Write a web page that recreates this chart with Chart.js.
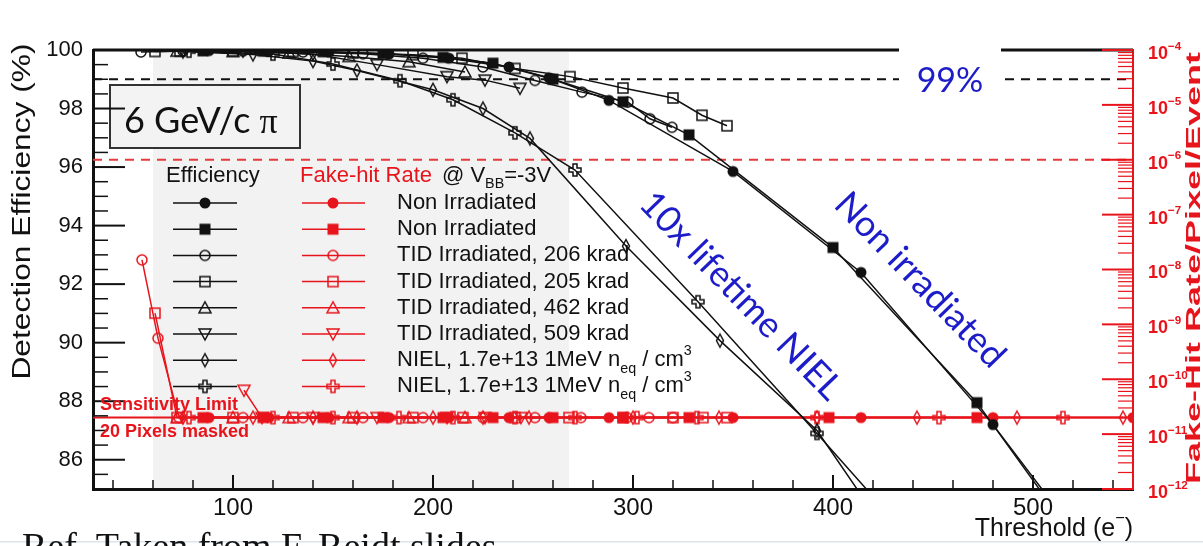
<!DOCTYPE html>
<html>
<head>
<meta charset="utf-8">
<title>Detection efficiency vs threshold</title>
<script src="https://cdn.jsdelivr.net/npm/chart.js@4.4.1/dist/chart.umd.min.js"></script>
<style>
  html, body { margin: 0; padding: 0; background: #fff; overflow: hidden; }
  canvas { display: block; }
</style>
</head>
<body>
<canvas id="effChart" width="1203" height="546"></canvas>
<script>
// ===============================
// DATA
// threshold [e-] vs detection efficiency [%] and fake-hit rate [/pixel/event]
// ===============================
const xLabels = [100, 200, 300, 400, 500];
const yLabels = [86, 88, 90, 92, 94, 96, 98, 100];
const rateExponents = [-12, -11, -10, -9, -8, -7, -6, -5, -4];

const seriesNames = [
  'Non Irradiated',
  'Non Irradiated',
  'TID Irradiated, 206 krad',
  'TID Irradiated, 205 krad',
  'TID Irradiated, 462 krad',
  'TID Irradiated, 509 krad',
  'NIEL, 1.7e+13 1MeV n_eq / cm^3',
  'NIEL, 1.7e+13 1MeV n_eq / cm^3'
];

// efficiency [threshold, %]
const effNonIrrA = [[88, 99.98], [118, 99.96], [148, 99.93], [178, 99.86], [208, 99.72], [238, 99.42], [258, 99.05], [288, 98.28], [350, 95.85], [414, 92.4], [480, 87.2], [530, 82.7]];
const effNonIrrB = [[85, 99.97], [115, 99.96], [145, 99.94], [175, 99.88], [205, 99.75], [230, 99.55], [260, 99.0], [295, 98.23], [328, 97.1], [400, 93.25], [472, 87.95], [520, 83.4]];
const effTid206 = [[54, 99.93], [75, 99.97], [105, 99.96], [135, 99.93], [165, 99.87], [195, 99.72], [225, 99.42], [251, 98.96], [274.5, 98.56], [297.5, 98.22], [308.5, 97.65], [319.5, 97.36]];
const effTid205 = [[61, 99.95], [73.5, 99.96], [100, 99.96], [130, 99.95], [160, 99.9], [190, 99.84], [214.5, 99.72], [241, 99.37], [268.5, 99.09], [295, 98.7], [320, 98.36], [334.5, 97.77], [347, 97.41]];
const effTid462 = [[72, 99.96], [100, 99.95], [128, 99.9], [158, 99.78], [188, 99.6], [216, 99.25]];
const effTid509 = [[105, 99.96], [140, 99.86], [172, 99.5], [207, 99.09], [226, 98.97], [243.5, 98.69]];
const effNielA = [[75, 99.95], [110, 99.85], [140, 99.62], [162, 99.3], [200, 98.64], [225, 98.0], [248.5, 96.98], [296.5, 93.3], [343.5, 90.07], [392, 87.0], [440, 82.2]];
const effNielB = [[78, 99.96], [120, 99.86], [150, 99.52], [183.5, 98.95], [210, 98.3], [241, 97.17], [271, 95.9], [332.5, 91.4], [392, 86.9], [440, 83.2]];

// fake-hit rate [threshold, rate]; most points sit on the sensitivity limit
const LIMIT = 2e-11;
const fhrNonIrrA = [[88, LIMIT], [118, LIMIT], [148, LIMIT], [178, LIMIT], [208, LIMIT], [238, LIMIT], [258, LIMIT], [288, LIMIT], [350, LIMIT], [414, LIMIT], [480, LIMIT], [550, LIMIT]];
const fhrNonIrrB = [[85, LIMIT], [115, LIMIT], [145, LIMIT], [175, LIMIT], [205, LIMIT], [230, LIMIT], [260, LIMIT], [295, LIMIT], [328, LIMIT], [398, LIMIT], [472, LIMIT]];
const fhrTid206 = [[54.5, 1.5e-8], [62.5, 5.6e-10], [73, LIMIT], [105, LIMIT], [135, LIMIT], [165, LIMIT], [195, LIMIT], [225, LIMIT], [251, LIMIT], [274, LIMIT], [297, LIMIT], [308, LIMIT], [320, LIMIT]];
const fhrTid205 = [[61, 1.6e-9], [72, LIMIT], [100, LIMIT], [130, LIMIT], [160, LIMIT], [190, LIMIT], [215, LIMIT], [241, LIMIT], [268, LIMIT], [295, LIMIT], [320, LIMIT], [335, LIMIT], [347, LIMIT]];
const fhrTid462 = [[72, LIMIT], [100, LIMIT], [128, LIMIT], [158, LIMIT], [188, LIMIT], [216, LIMIT]];
const fhrTid509 = [[105.5, 6.3e-11], [114.5, LIMIT], [140, LIMIT], [172, LIMIT], [207, LIMIT], [226, LIMIT], [244, LIMIT]];
const fhrNielA = [[75, LIMIT], [110, LIMIT], [140, LIMIT], [162, LIMIT], [200, LIMIT], [225, LIMIT], [248, LIMIT], [300, LIMIT], [343, LIMIT], [392, LIMIT], [442, LIMIT], [492, LIMIT], [545, LIMIT]];
const fhrNielB = [[78, LIMIT], [120, LIMIT], [150, LIMIT], [183, LIMIT], [210, LIMIT], [241, LIMIT], [271, LIMIT], [302, LIMIT], [332, LIMIT], [392, LIMIT], [453, LIMIT], [515, LIMIT]];

const EFF_REF = 99;        // 99 % line
const RATE_REF = 1e-6;     // fake-hit rate requirement
const shadedRange = [60, 268];

// ===============================
// STYLE
// ===============================
const INK = '#111111';
const RED = '#e8141c';
const BLUE = '#1c1cc8';
const SANS = '"Liberation Sans", Arial, sans-serif';
const CAL = 'Lato, "Open Sans", sans-serif';
const SERIF = '"Liberation Serif", "Times New Roman", serif';

Chart.defaults.font.family = SANS;

const shapes = ['circle', 'square', 'circle', 'square', 'triangle', 'triangleDown', 'diamond', 'cross'];
const filled = [true, true, false, false, false, false, false, false];

function makeMarker(shape, color, solid) {
  const c = document.createElement('canvas');
  c.width = c.height = 18;
  const g = c.getContext('2d');
  g.translate(9, 9);
  g.lineWidth = 1.5;
  g.strokeStyle = color;
  g.fillStyle = color;
  g.beginPath();
  if (shape === 'circle') {
    g.arc(0, 0, solid ? 5.5 : 5, 0, Math.PI * 2);
  } else if (shape === 'square') {
    solid ? g.rect(-5.5, -5.5, 11, 11) : g.rect(-5, -5, 10, 10);
  } else if (shape === 'triangle') {
    g.moveTo(0, -6); g.lineTo(6, 5); g.lineTo(-6, 5); g.closePath();
  } else if (shape === 'triangleDown') {
    g.moveTo(0, 6); g.lineTo(6, -5); g.lineTo(-6, -5); g.closePath();
  } else if (shape === 'diamond') {
    g.moveTo(0, -6.5); g.lineTo(3.5, 0); g.lineTo(0, 6.5); g.lineTo(-3.5, 0); g.closePath();
  } else if (shape === 'cross') {
    const a = 2, b = 6;
    const pts = [[-a, -b], [a, -b], [a, -a], [b, -a], [b, a], [a, a], [a, b], [-a, b], [-a, a], [-b, a], [-b, -a], [-a, -a]];
    pts.forEach(([px, py], i) => (i ? g.lineTo(px, py) : g.moveTo(px, py)));
    g.closePath();
  }
  solid ? g.fill() : g.stroke();
  return c;
}

const blackMarks = shapes.map((s, i) => makeMarker(s, INK, filled[i]));
const redMarks = shapes.map((s, i) => makeMarker(s, RED, filled[i]));

// ===============================
// DATASETS
// ===============================
const toXY = pts => pts.map(([x, y]) => ({ x, y }));

function curve(label, pts, axis, color, mark) {
  return {
    label,
    data: toXY(pts),
    yAxisID: axis,
    borderColor: color,
    borderWidth: 1.5,
    pointStyle: mark,
    pointRadius: 5,
    tension: 0,
    fill: false
  };
}

function refLine(pts, axis, color, width, dash, clip) {
  return {
    data: toXY(pts),
    yAxisID: axis,
    borderColor: color,
    borderWidth: width,
    borderDash: dash,
    pointRadius: 0,
    tension: 0,
    fill: false,
    clip
  };
}

const effSeries = [effNonIrrA, effNonIrrB, effTid206, effTid205, effTid462, effTid509, effNielA, effNielB];
const fhrSeries = [fhrNonIrrA, fhrNonIrrB, fhrTid206, fhrTid205, fhrTid462, fhrTid509, fhrNielA, fhrNielB];

const datasets = [
  ...effSeries.map((s, i) => curve(seriesNames[i], s, 'y', INK, blackMarks[i])),
  ...fhrSeries.map((s, i) => curve(seriesNames[i], s, 'y2', RED, redMarks[i])),
  refLine([[30, LIMIT], [550, LIMIT]], 'y2', RED, 2, [], undefined),
  refLine([[30, 100], [550, 100]], 'y', INK, 3, [], false),
  refLine([[30, EFF_REF], [550, EFF_REF]], 'y', INK, 2, [9, 7], undefined),
  refLine([[30, RATE_REF], [550, RATE_REF]], 'y2', '#e83a3a', 2, [9, 7], undefined)
];

// ===============================
// TEXT HELPERS
// ===============================
// "_xx" is drawn as subscript, "^xx" as superscript
function splitRich(str) {
  return str.split(/([_^][A-Za-z0-9\-]+)/).filter(Boolean).map(t => {
    if (t[0] === '_') return { t: t.slice(1), sub: true };
    if (t[0] === '^') return { t: t.slice(1).replace('-', '\u2212'), sup: true };
    return { t };
  });
}

function richWidth(ctx, parts, size, weight, family) {
  let w = 0;
  parts.forEach(p => {
    ctx.font = `${weight} ${p.sub || p.sup ? size * 0.65 : size}px ${family}`;
    w += ctx.measureText(p.t).width;
  });
  return w;
}

function richText(ctx, str, x, y, o) {
  const { size, color = INK, weight = '', family = SANS, align = 'left' } = o;
  const parts = splitRich(str);
  let cx = align === 'right' ? x - richWidth(ctx, parts, size, weight, family) : x;
  ctx.fillStyle = color;
  ctx.textAlign = 'left';
  ctx.textBaseline = 'middle';
  parts.forEach(p => {
    const small = p.sub || p.sup;
    ctx.font = `${weight} ${small ? size * 0.65 : size}px ${family}`;
    const dy = p.sub ? size * 0.38 : p.sup ? -size * 0.42 : 0;
    ctx.fillText(p.t, cx, y + dy);
    cx += ctx.measureText(p.t).width;
  });
}

function line(ctx, x1, y1, x2, y2) {
  ctx.beginPath();
  ctx.moveTo(x1, y1);
  ctx.lineTo(x2, y2);
  ctx.stroke();
}

// ===============================
// DECORATION PLUGIN
// ===============================
function drawTicks(chart) {
  const { ctx, chartArea: a, scales: { x, y, y2 } } = chart;
  ctx.save();
  ctx.strokeStyle = INK;
  for (let v = 40; v <= 540; v += 20) {
    const px = x.getPixelForValue(v);
    ctx.lineWidth = v % 100 === 0 ? 2 : 1.5;
    line(ctx, px, a.bottom, px, a.bottom - (v % 100 === 0 ? 14 : 9));
  }
  for (let v = 85.5; v < 100; v += 0.5) {
    const py = y.getPixelForValue(v);
    ctx.lineWidth = v % 2 === 0 ? 2 : 1.5;
    line(ctx, a.left, py, a.left + (v % 2 === 0 ? 32 : 15), py);
  }
  ctx.strokeStyle = RED;
  rateExponents.forEach(e => {
    for (let m = 1; m < 10; m++) {
      if (e === -4 && m > 1) break;
      const py = y2.getPixelForValue(m * Math.pow(10, e));
      ctx.lineWidth = m === 1 ? 2 : 1.2;
      line(ctx, a.right - (m === 1 ? 31 : 15), py, a.right, py);
    }
  });
  ctx.restore();
}

function drawLegend(ctx) {
  const rowY = 203, step = 26.2;
  richText(ctx, 'Efficiency', 166, 176, { size: 22 });
  richText(ctx, 'Fake-hit Rate', 300, 176, { size: 22, color: RED });
  richText(ctx, '@ V_BB=-3V', 442, 176, { size: 22 });
  seriesNames.forEach((name, i) => {
    const yy = rowY + i * step;
    ctx.lineWidth = 1.5;
    ctx.strokeStyle = INK;
    line(ctx, 173, yy, 237, yy);
    ctx.drawImage(blackMarks[i], 205 - 9, yy - 9);
    ctx.strokeStyle = RED;
    line(ctx, 302, yy, 365, yy);
    ctx.drawImage(redMarks[i], 333 - 9, yy - 9);
    richText(ctx, name, 397, yy, { size: 22 });
  });
}

const decor = {
  id: 'decor',
  beforeDraw(chart) {
    const { ctx, chartArea: a, scales: { x } } = chart;
    const x0 = x.getPixelForValue(shadedRange[0]);
    const x1 = x.getPixelForValue(shadedRange[1]);
    ctx.save();
    ctx.fillStyle = '#f2f2f2';
    ctx.fillRect(x0, a.top + 2, x1 - x0, a.bottom - a.top - 3);
    ctx.fillStyle = '#dce4ec';
    ctx.fillRect(0, 541, chart.width, 1.5);
    ctx.restore();
  },
  afterDatasetsDraw(chart) {
    const { ctx, chartArea: a, scales: { x, y, y2 } } = chart;
    ctx.save();

    // beam label box
    ctx.fillStyle = '#f3f3f3';
    ctx.fillRect(110, 85, 190, 63);
    ctx.strokeStyle = '#333';
    ctx.lineWidth = 2;
    ctx.strokeRect(110, 85, 190, 63);

    drawTicks(chart);

    ctx.fillStyle = INK;
    ctx.textBaseline = 'alphabetic';
    ctx.textAlign = 'left';
    ctx.font = `36px ${CAL}`;
    ctx.fillText('6 GeV/c ', 124, 133);
    const w = ctx.measureText('6 GeV/c ').width;
    ctx.font = `36px ${SERIF}`;
    ctx.fillText('\u03c0', 124 + w, 133);

    // 99 % label breaks the frame and the dashed line
    const cx = x.getPixelForValue(458.5);
    const cy = y.getPixelForValue(EFF_REF);
    ctx.fillStyle = '#fff';
    ctx.fillRect(cx - 51, a.top - 5, 102, cy - a.top + 22);
    ctx.fillStyle = BLUE;
    ctx.textAlign = 'center';
    ctx.textBaseline = 'middle';
    ctx.font = `34px ${CAL}`;
    ctx.fillText('99%', cx, cy + 2);

    // curve annotations
    [['10x lifetime NIEL', 354, 91.6], ['Non irradiated', 443.5, 92.14]].forEach(([t, vx, vy]) => {
      ctx.save();
      ctx.translate(x.getPixelForValue(vx), y.getPixelForValue(vy));
      ctx.rotate(46 * Math.PI / 180);
      ctx.font = `36px ${CAL}`;
      ctx.fillText(t, 0, 0);
      ctx.restore();
    });

    drawLegend(ctx);

    richText(ctx, 'Sensitivity Limit', a.left + 7, 405, { size: 18, weight: 'bold', color: RED });
    richText(ctx, '20 Pixels masked', a.left + 7, 432, { size: 18, weight: 'bold', color: RED });

    // right axis labels
    rateExponents.forEach(e => {
      const py = y2.getPixelForValue(Math.pow(10, e));
      richText(ctx, '10^' + e, a.right + 15, py + 4, { size: 18, weight: 'bold', color: RED });
    });

    // axis titles
    richText(ctx, 'Threshold (e^-)', a.right, 529, { size: 25, align: 'right' });

    ctx.save();
    ctx.translate(22.5, 211.5);
    ctx.rotate(-Math.PI / 2);
    ctx.scale(1.22, 1);
    ctx.fillStyle = INK;
    ctx.textAlign = 'center';
    ctx.textBaseline = 'middle';
    ctx.font = `26px ${SANS}`;
    ctx.fillText('Detection Efficiency (%)', 0, 0);
    ctx.restore();

    ctx.save();
    ctx.translate(1194, 268);
    ctx.rotate(-Math.PI / 2);
    ctx.scale(1.8, 1);
    ctx.fillStyle = RED;
    ctx.textAlign = 'center';
    ctx.textBaseline = 'middle';
    ctx.font = `bold 20px ${SANS}`;
    ctx.fillText('Fake-Hit Rate/Pixel/Event', 0, 0);
    ctx.restore();

    // source note at the foot of the slide
    ctx.fillStyle = INK;
    ctx.textAlign = 'left';
    ctx.textBaseline = 'alphabetic';
    ctx.font = `38px ${SERIF}`;
    ctx.fillText('Ref. Taken from F. Reidt slides', 22, 559);

    ctx.restore();
  }
};

// ===============================
// CHART
// ===============================
new Chart(document.getElementById('effChart'), {
  type: 'line',
  data: { datasets },
  options: {
    responsive: false,
    animation: false,
    devicePixelRatio: 1,
    events: [],
    layout: { padding: { top: 50, left: 0, right: 0, bottom: 0 } },
    plugins: {
      legend: { display: false },
      tooltip: { enabled: false }
    },
    scales: {
      x: {
        type: 'linear',
        min: 30,
        max: 550,
        afterBuildTicks: s => { s.ticks = xLabels.map(value => ({ value })); },
        afterFit: s => { s.height = 57; },
        grid: { display: false, drawTicks: false },
        border: { color: INK, width: 3 },
        ticks: { color: INK, font: { size: 24 }, padding: 5, maxRotation: 0, autoSkip: false }
      },
      y: {
        position: 'left',
        min: 85,
        max: 100,
        afterBuildTicks: s => { s.ticks = yLabels.map(value => ({ value })); },
        afterFit: s => { s.width = 93; },
        grid: { display: false, drawTicks: false },
        border: { color: INK, width: 3 },
        ticks: { color: INK, font: { size: 22 }, padding: 10, autoSkip: false }
      },
      y2: {
        type: 'logarithmic',
        position: 'right',
        min: 1e-12,
        max: 1e-4,
        afterFit: s => { s.width = 70; },
        grid: { display: false, drawTicks: false },
        border: { color: RED, width: 2 },
        ticks: { display: false }
      }
    }
  },
  plugins: [decor]
});
</script>
</body>
</html>
